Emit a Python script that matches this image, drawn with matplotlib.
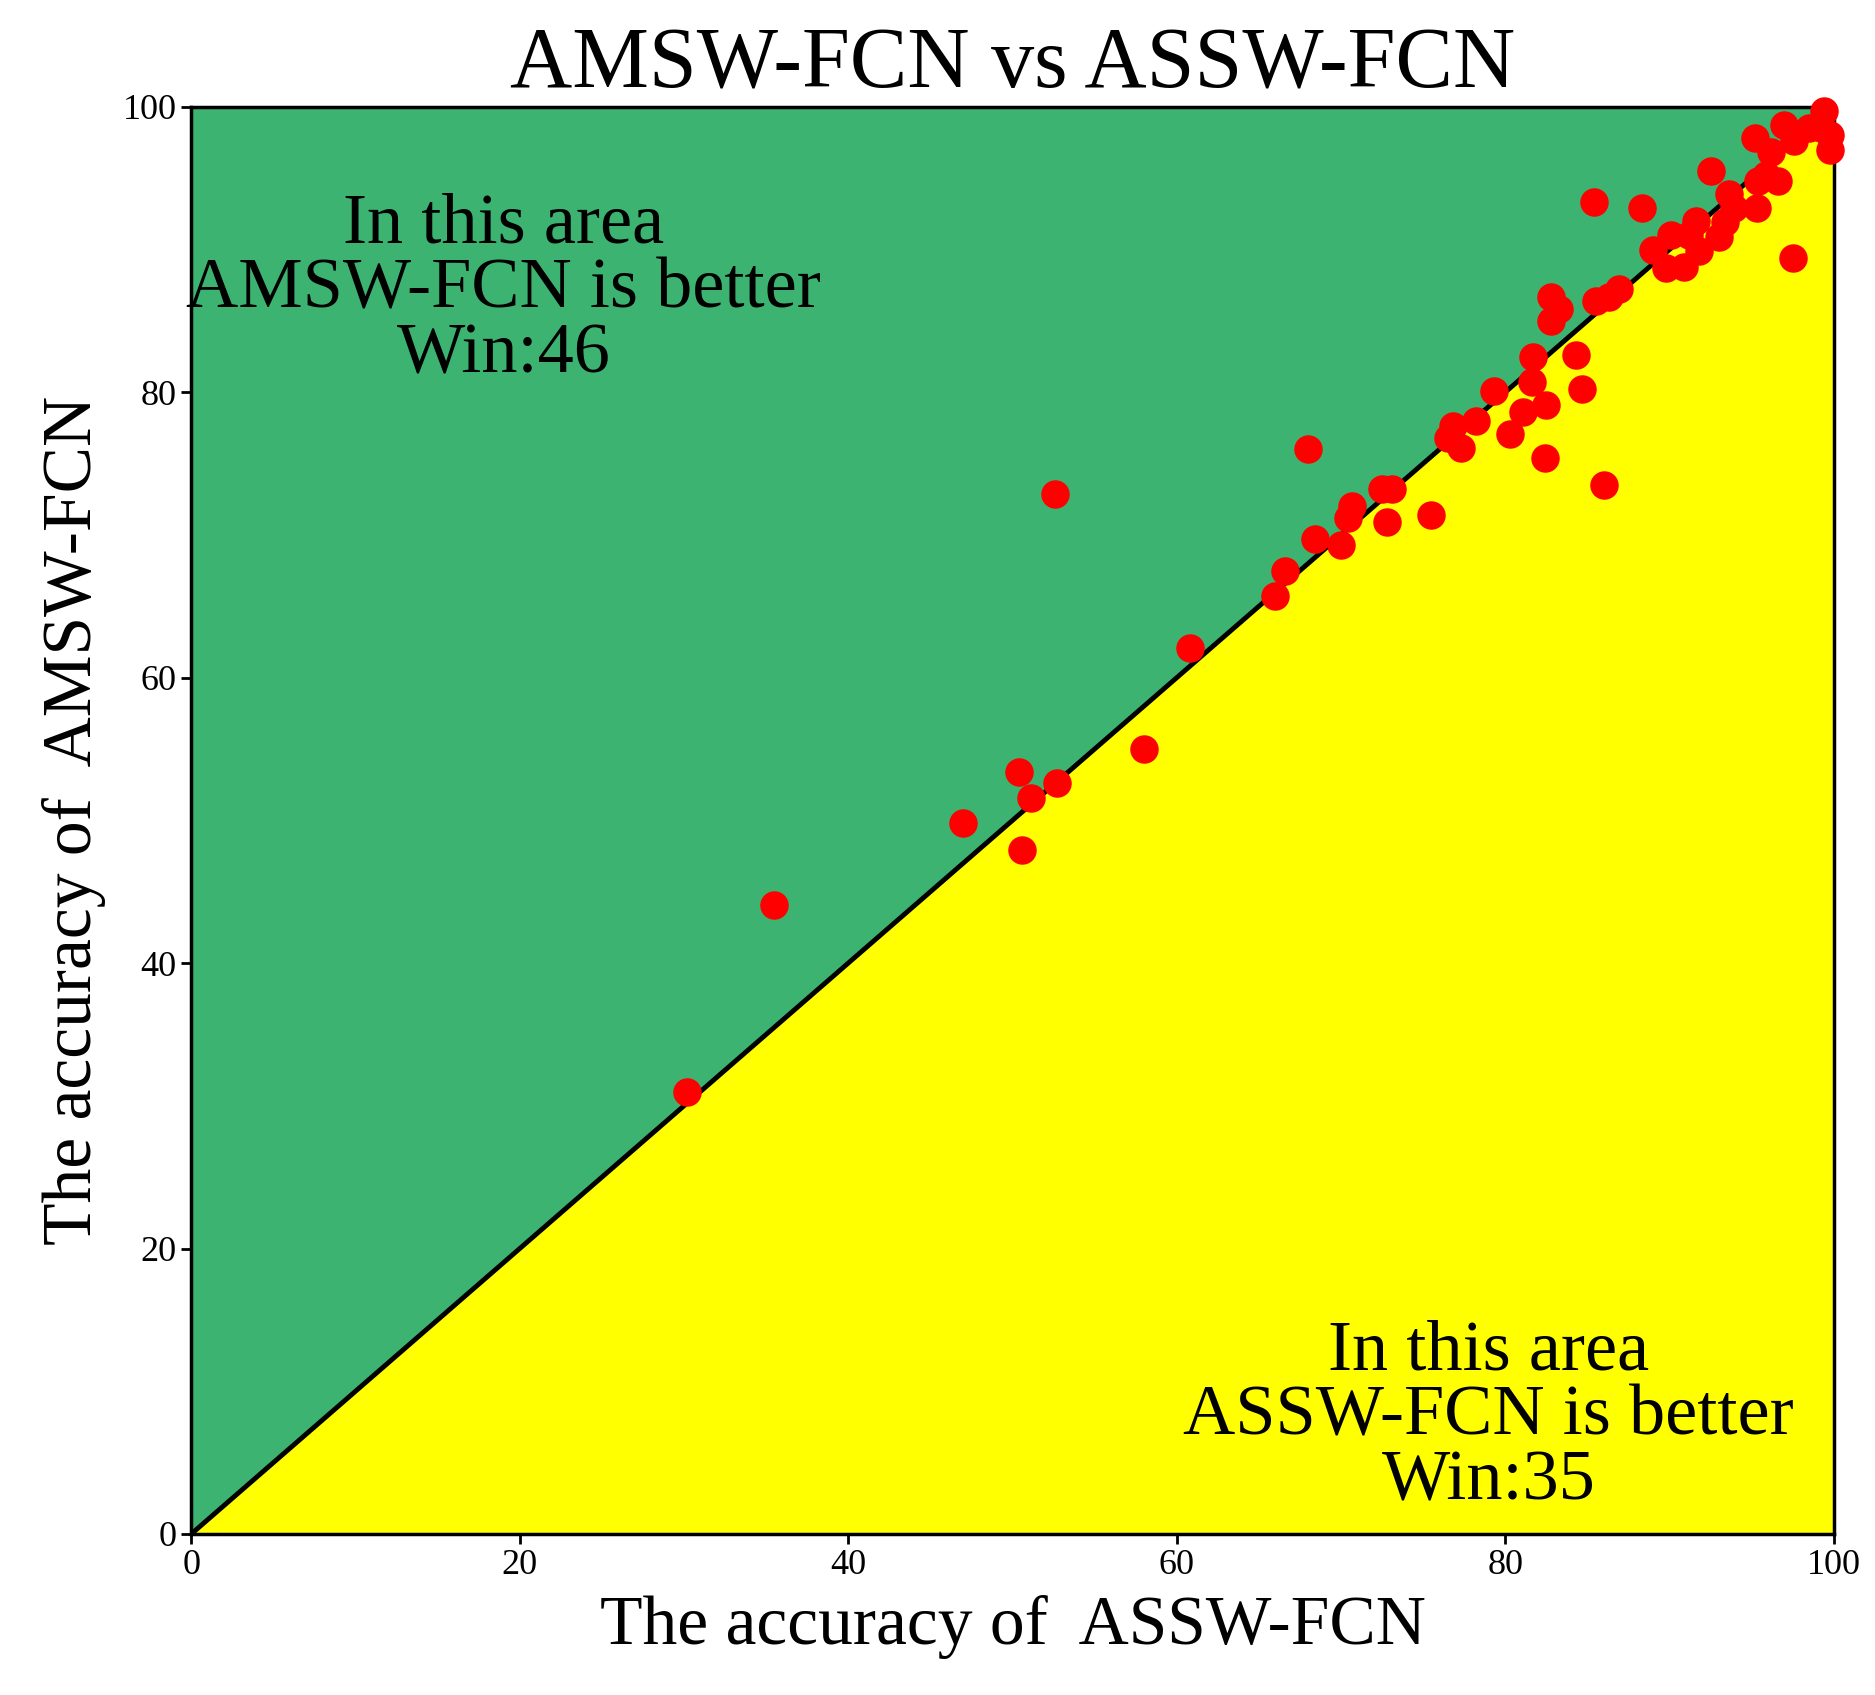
import matplotlib
matplotlib.use("Agg")
import matplotlib.pyplot as plt
import numpy as np

assw = [30.2,35.5,47.0,50.4,50.6,51.1,52.6,52.7,58.0,60.8,66.0,66.6,68.0,68.4,70.0,70.4,70.7,72.5,72.8,73.1,
        75.5,76.5,76.8,77.3,78.2,79.3,80.3,81.1,81.6,81.7,82.4,82.5,82.8,82.8,83.3,84.3,84.7,85.4,85.5,86.0,
        86.3,86.9,88.3,89.0,89.8,90.1,90.9,91.2,91.6,91.8,92.5,93.0,93.4,93.6,93.9,95.2,95.3,95.4,95.9,96.2,
        96.6,97.0,97.5,97.6,98.5,99.4,99.8,99.8,99.2]
amsw = [31.0,44.1,49.8,53.4,47.9,51.6,72.9,52.6,55.0,62.1,65.7,67.5,76.0,69.7,69.3,71.2,72.0,73.2,70.9,73.2,
        71.4,76.8,77.6,76.1,78.0,80.1,77.1,78.6,80.7,82.5,75.4,79.1,86.7,85.0,85.8,82.6,80.2,93.3,86.4,73.5,
        86.7,87.2,92.9,90.0,88.7,91.0,88.8,91.0,92.0,89.9,95.5,90.9,91.9,93.9,92.9,97.8,92.9,94.8,95.2,96.8,
        94.8,98.7,89.4,97.6,98.5,99.7,97.0,98.0,98.5]

plt.rcParams['font.family'] = ['Liberation Serif', 'DejaVu Serif']
fig = plt.figure(figsize=(18.75, 16.95), dpi=100)
ax = fig.add_axes([0.102, 0.095, 0.876, 0.842])
ax.fill_between([0, 100], [0, 100], [100, 100], color='#3cb371', zorder=0)
ax.fill_between([0, 100], [0, 0], [0, 100], color='yellow', zorder=0)
ax.plot([0, 100], [0, 100], color='black', lw=3.5, zorder=2)
ax.scatter(assw, amsw, s=380, color='red', zorder=3, clip_on=False)
ax.set_xlim(0, 100); ax.set_ylim(0, 100)
ax.tick_params(labelsize=26, width=2, length=7)
for s in ax.spines.values():
    s.set_linewidth(2.5)
ax.set_xlabel('The accuracy of  ASSW-FCN', fontsize=50, labelpad=10)
ax.set_ylabel('The accuracy of  AMSW-FCN', fontsize=50, labelpad=12)
ax.set_title('AMSW-FCN vs ASSW-FCN', fontsize=62, pad=12)
ax.text(19, 94, 'In this area\nAMSW-FCN is better\nWin:46', fontsize=52, ha='center', va='top', linespacing=1.0)
ax.text(79, 15, 'In this area\nASSW-FCN is better\nWin:35', fontsize=52, ha='center', va='top', linespacing=1.0)
fig.savefig('out.png', dpi=100)
